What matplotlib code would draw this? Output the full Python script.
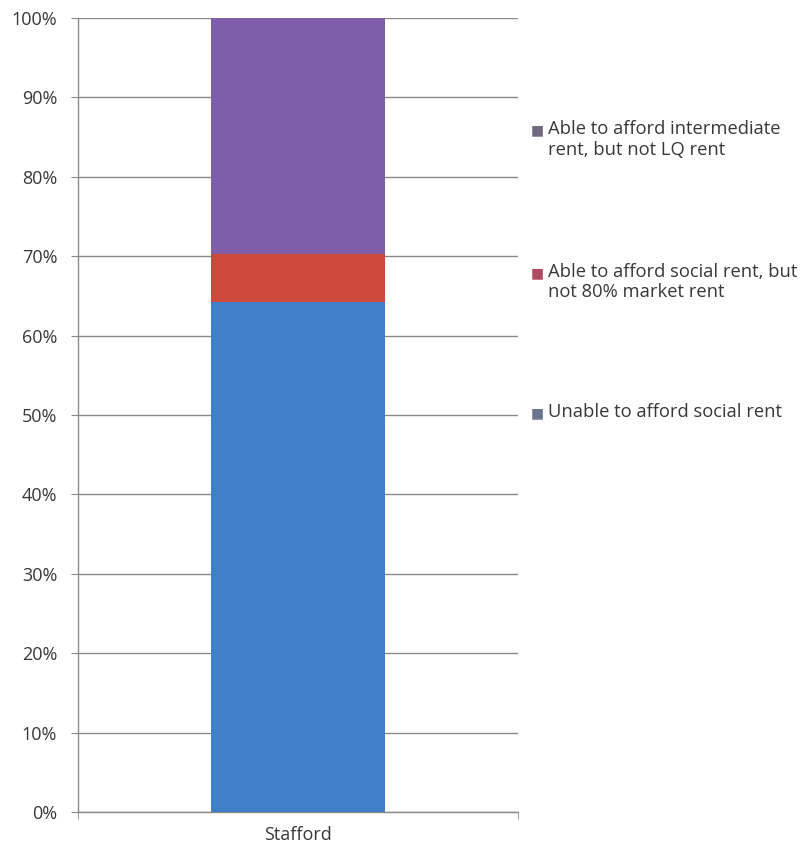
import matplotlib
matplotlib.use("Agg")
import matplotlib.pyplot as plt
from matplotlib.ticker import PercentFormatter

# Share of households by affordability band (percent)
categories = ["Stafford"]
unable_social = [64.2]
social_not_80 = [6.1]
intermediate_not_lq = [29.7]

series_labels = [
    "Unable to afford social rent",
    "Able to afford social rent, but\nnot 80% market rent",
    "Able to afford intermediate\nrent, but not LQ rent",
]
series_colors = ["#4080c8", "#cc4a3c", "#7e5ea8"]
marker_colors = ["#6a7590", "#b04a60", "#6f6a80"]

plt.rcParams["font.family"] = ["Open Sans", "DejaVu Sans"]

fig = plt.figure(figsize=(8.01, 8.48), dpi=100)
ax = fig.add_axes([0.0974, 0.0425, 0.5493, 0.9363])

series = [unable_social, social_not_80, intermediate_not_lq]
bottom = [0.0] * len(categories)
for vals, col in zip(series, series_colors):
    ax.bar(categories, vals, bottom=bottom, width=0.395, color=col,
           edgecolor="none", zorder=3)
    bottom = [b + v for b, v in zip(bottom, vals)]

ax.set_xlim(-0.5, 0.5)
ax.set_ylim(0, 100)
ax.set_yticks(range(0, 101, 10))
ax.yaxis.set_major_formatter(PercentFormatter(decimals=0))
ax.yaxis.grid(True, color="#8a8a8a", linewidth=1.0, zorder=0)
ax.set_axisbelow(True)

# category boundary ticks at the ends of the x axis
ax.set_xticks([-0.5, 0.5], minor=True)
ax.tick_params(axis="x", which="minor", length=5, color="#8a8a8a")

for side in ("top", "right"):
    ax.spines[side].set_visible(False)
for side in ("left", "bottom"):
    ax.spines[side].set_color("#8a8a8a")
    ax.spines[side].set_linewidth(1.0)

ax.tick_params(axis="y", length=5, color="#8a8a8a", pad=10,
               labelsize=13, labelcolor="#383838")
ax.tick_params(axis="x", which="major", length=0, pad=10, labelsize=13,
               labelcolor="#383838")

# Legend entries drawn at fixed figure positions, top to bottom
legend_y = [0.8455, 0.6775, 0.5125]
for lab, mcol, y in zip(reversed(series_labels), reversed(marker_colors), legend_y):
    fig.text(0.671, y, "\u25A0", color=mcol, fontsize=10, va="center", ha="center")
    fig.text(0.684, y + 0.0125, lab, fontsize=13.2, color="#383838",
             va="top", ha="left", linespacing=1.17)

fig.savefig("out.png", dpi=100)
